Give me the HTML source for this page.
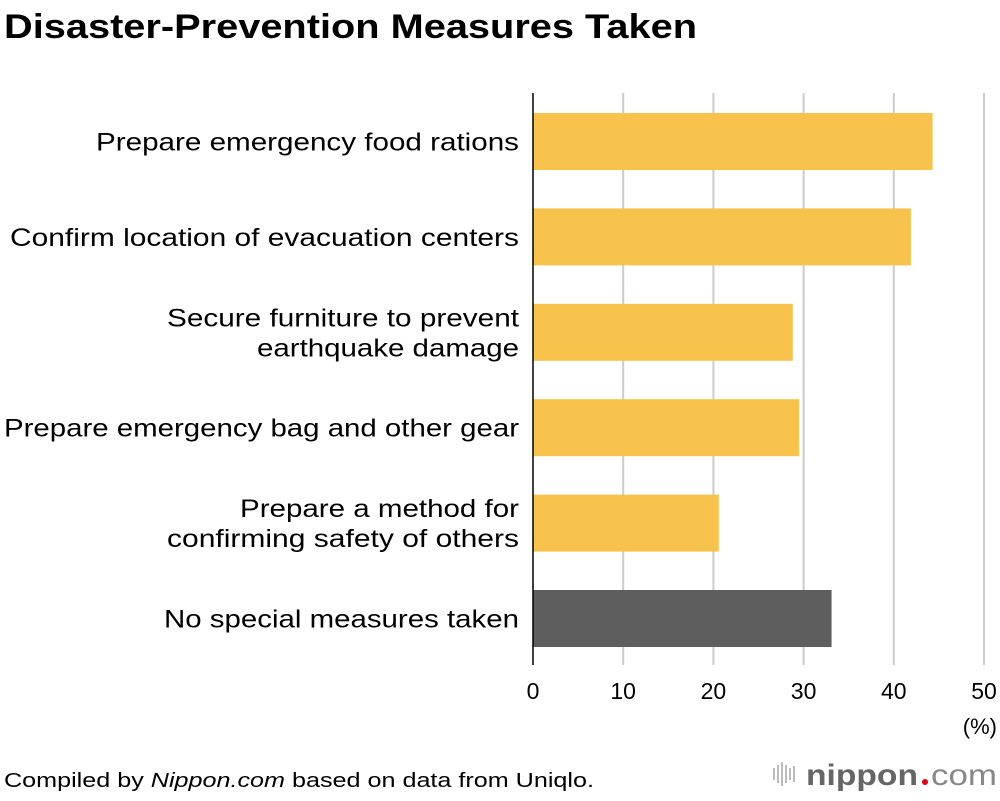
<!DOCTYPE html>
<html><head><meta charset="utf-8"><style>
body{margin:0;width:1000px;height:796px;background:#fff;font-family:"Liberation Sans",sans-serif;overflow:hidden}
</style></head><body>
<svg width="1000" height="796" xmlns="http://www.w3.org/2000/svg">
<text x="4" y="38" font-size="34" font-weight="bold" fill="#000" textLength="693" lengthAdjust="spacingAndGlyphs">Disaster-Prevention Measures Taken</text>
<g id="grid"></g><g id="bars"></g><g id="labels"></g><g id="ticks"></g>
<line x1="533" y1="93" x2="533" y2="665" stroke="#000" stroke-width="1.5"/>
<text x="997" y="734" font-size="22" text-anchor="end">(%)</text>
<text x="4" y="787" font-size="20" textLength="590" lengthAdjust="spacingAndGlyphs">Compiled by <tspan font-style="italic">Nippon.com</tspan> based on data from Uniqlo.</text>
<g>
<g fill="#bbb"><rect x="773" y="768" width="2" height="12"/><rect x="777" y="765" width="2" height="18"/><rect x="781" y="762" width="2" height="24"/><rect x="785" y="765" width="2" height="18"/><rect x="789" y="768" width="2" height="12"/><rect x="793" y="766" width="2" height="16"/></g>
<text x="806" y="785" font-size="30" font-weight="bold" fill="#666" textLength="112" lengthAdjust="spacingAndGlyphs">nippon</text>
<circle cx="925" cy="782" r="3" fill="#e60012"/>
<text x="931" y="785" font-size="30" fill="#888" textLength="66" lengthAdjust="spacingAndGlyphs">com</text>
</g>
</svg>
<script>
const categories=[["Prepare emergency food rations"],["Confirm location of evacuation centers"],["Secure furniture to prevent","earthquake damage"],["Prepare emergency bag and other gear"],["Prepare a method for","confirming safety of others"],["No special measures taken"]];
const values=[44.3,41.9,28.8,29.5,20.6,33.1];
const colors=["#f8c34c","#f8c34c","#f8c34c","#f8c34c","#f8c34c","#5e5e5e"];
const tickValues=[0,10,20,30,40,50];
const labelWidths=[[423],[509],[352,262],[515],[279,352],[355]];
const NS="http://www.w3.org/2000/svg";
const x=v=>533+v*9.02;
const y=i=>113+i*95.4;
const bh=57;
function mk(tag,attrs,parent){const e=document.createElementNS(NS,tag);for(const k in attrs)e.setAttribute(k,attrs[k]);document.getElementById(parent).appendChild(e);return e;}
tickValues.forEach(t=>{
 if(t>0){const l=mk('line',{x1:x(t),x2:x(t),y1:93,y2:665,stroke:'#ccc','stroke-width':2},'grid');
 
 }
 const tx=mk('text',{x:x(t),y:699,'font-size':23,'text-anchor':'middle'},'ticks');tx.textContent=t;
 
 
});
values.forEach((v,i)=>{
 const r=mk('rect',{x:533,y:y(i),width:x(v)-533,height:bh,fill:colors[i]},'bars');
 
 
 const lines=categories[i];const cy=y(i)+bh/2;
 lines.forEach((s,j)=>{
  const t=mk('text',{x:519,y:cy+9+(j-(lines.length-1)/2)*30,'font-size':25,'text-anchor':'end',textLength:labelWidths[i][j],lengthAdjust:'spacingAndGlyphs'},'labels');t.textContent=s;
  
  
 });
});
</script>
</body></html>
